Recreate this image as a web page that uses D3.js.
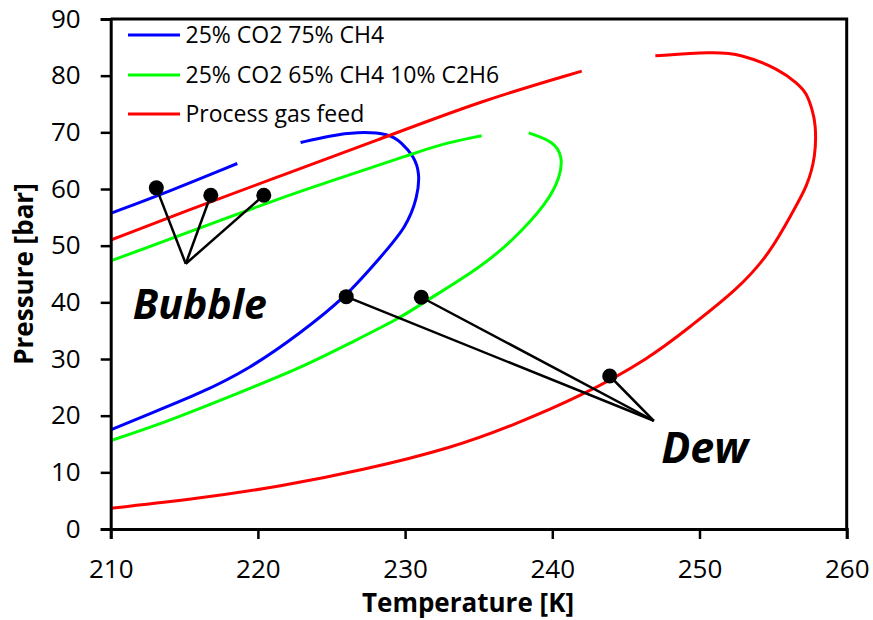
<!DOCTYPE html>
<html>
<head>
<meta charset="utf-8">
<script src="https://cdn.jsdelivr.net/npm/d3@7"></script>
<style>
  html, body { margin: 0; padding: 0; background: #fff; }
  svg { display: block; font-family: "Open Sans", sans-serif; }
</style>
</head>
<body>
<svg id="chart" width="873" height="620"></svg>
<script>
// Phase envelopes: [temperature K, pressure bar]
const blueBubble = [[210, 55.7], [214, 59.6], [218.6, 64.5]];
const blueDew = [
  [222.9, 68.2], [224.9, 69.4], [226.7, 70.1], [228.95, 69.8], [229.75, 68.2],
  [230.6, 65.8], [231.0, 62.8], [230.85, 58.6], [230.1, 53.3], [228.35, 48.05],
  [226.0, 41.0], [222.85, 34.5], [219.45, 28.3], [216.05, 23.9], [212.7, 20.4],
  [210, 17.5]
];
const greenBubble = [
  [210, 47.3], [215, 52.1], [221.5, 58.4], [226, 62.3], [230.3, 66.0],
  [232.4, 67.9], [235.2, 69.4]
];
const greenDew = [
  [238.4, 69.9], [240.1, 68.4], [240.7, 65.7], [240.55, 62.2], [239.65, 57.5],
  [237.35, 51.0], [235.1, 46.1], [231.2, 39.9], [229.65, 37.2], [226.25, 32.8],
  [222.9, 28.4], [218.3, 23.6], [213.8, 18.9], [210, 15.6]
];
const redBubble = [
  [210, 51.0], [215, 56.0], [221.5, 62.3], [228, 68.5], [235.3, 75.7], [242.0, 80.8]
];
const redDew = [
  [247.0, 83.5], [250.9, 84.2], [252.75, 83.9], [255.45, 81.1], [256.6, 78.7],
  [257.3, 76.9], [257.65, 74.0], [257.9, 71.6], [257.9, 65.7], [257.3, 60.4],
  [256.4, 56.3], [254.8, 48.65], [252.55, 42.2], [249.35, 35.7], [246.65, 30.2],
  [241.9, 23.35], [237.35, 18.35], [233.3, 14.4], [227.15, 10.4], [221.5, 7.5],
  [216.05, 5.4], [210, 3.65]
];

// Legend entries
const seriesNames = ["25% CO2 75% CH4", "25% CO2 65% CH4 10% C2H6", "Process gas feed"];
const seriesColors = ["#0000ff", "#00ff00", "#ff0000"];

// Callout markers and where their leader lines meet
const bubbleDots = [[213.1, 60.2], [216.8, 58.9], [220.4, 58.9]];
const bubbleHub = [215.1, 46.8];
const dewDots = [[226.0, 41.0], [231.1, 40.9], [243.9, 27.0]];
const dewHub = [246.9, 19.1];

// Axis ticks
const xTicks = [210, 220, 230, 240, 250, 260];
const yTicks = [0, 10, 20, 30, 40, 50, 60, 70, 80, 90];

const margin = { left: 110.7, right: 26.3, top: 19, bottom: 91 };
const W = 873, H = 620;
const svg = d3.select("#chart");

const x = d3.scaleLinear().domain([210, 260]).range([margin.left, W - margin.right]);
const y = d3.scaleLinear().domain([0, 90]).range([H - margin.bottom, margin.top]);

// B-spline through the envelope points keeps the curves free of kinks
const line = d3.line()
  .x(d => x(d[0]))
  .y(d => y(d[1]))
  .curve(d3.curveBasis);

const curves = [
  [blueBubble, seriesColors[0]], [blueDew, seriesColors[0]],
  [greenBubble, seriesColors[1]], [greenDew, seriesColors[1]],
  [redBubble, seriesColors[2]], [redDew, seriesColors[2]]
];

svg.append("g").selectAll("path")
  .data(curves)
  .join("path")
  .attr("d", d => line(d[0]))
  .attr("fill", "none")
  .attr("stroke", d => d[1])
  .attr("stroke-width", 3)
  .attr("stroke-linecap", "butt")
  .attr("stroke-linejoin", "round");

// Leader lines and dots
function callout(dots, hub) {
  const g = svg.append("g");
  g.selectAll("line")
    .data(dots)
    .join("line")
    .attr("x1", d => x(d[0])).attr("y1", d => y(d[1]))
    .attr("x2", x(hub[0])).attr("y2", y(hub[1]))
    .attr("stroke", "#000").attr("stroke-width", 2.5);
  g.selectAll("circle")
    .data(dots)
    .join("circle")
    .attr("cx", d => x(d[0])).attr("cy", d => y(d[1]))
    .attr("r", 7.5).attr("fill", "#000");
}
callout(bubbleDots, bubbleHub);
callout(dewDots, dewHub);

svg.append("text")
  .attr("x", x(211.5)).attr("y", y(37.1))
  .attr("font-size", 41).attr("font-weight", "bold").attr("font-style", "italic")
  .text("Bubble");
svg.append("text")
  .attr("x", x(247.4)).attr("y", y(11.6))
  .attr("font-size", 43).attr("font-weight", "bold").attr("font-style", "italic")
  .text("Dew");

// Axes
const xAxis = svg.append("g")
  .attr("transform", `translate(0,${y(0)})`)
  .call(d3.axisBottom(x).tickValues(xTicks).tickFormat(d3.format("d")).tickSize(10).tickPadding(21));
const yAxis = svg.append("g")
  .attr("transform", `translate(${x(210)},0)`)
  .call(d3.axisLeft(y).tickValues(yTicks).tickFormat(d3.format("d")).tickSize(10).tickPadding(20));

[xAxis, yAxis].forEach(a => {
  a.select(".domain").attr("stroke", "#000").attr("stroke-width", 3);
  a.selectAll(".tick line").attr("stroke", "#000").attr("stroke-width", 2.5);
  a.selectAll(".tick text").attr("font-size", 26).attr("fill", "#000")
    .attr("font-family", "'Open Sans', sans-serif");
});

// Top and right frame
svg.append("path")
  .attr("d", `M${x(210)},${y(90)}H${x(260)}V${y(0)}`)
  .attr("fill", "none").attr("stroke", "#000").attr("stroke-width", 3);

// Axis titles
svg.append("text")
  .attr("x", 468).attr("y", 612)
  .attr("text-anchor", "middle")
  .attr("font-size", 26).attr("font-weight", "bold")
  .text("Temperature [K]");
svg.append("text")
  .attr("transform", `translate(33,${(y(0) + y(90)) / 2}) rotate(-90)`)
  .attr("text-anchor", "middle")
  .attr("font-size", 26).attr("font-weight", "bold")
  .text("Pressure [bar]");

// Legend
const legend = svg.append("g");
const legendY = [35, 75, 114];
seriesNames.forEach((name, i) => {
  legend.append("line")
    .attr("x1", 128).attr("x2", 180)
    .attr("y1", legendY[i]).attr("y2", legendY[i])
    .attr("stroke", seriesColors[i]).attr("stroke-width", 3);
  legend.append("text")
    .attr("x", 185.5).attr("y", legendY[i] + 8.3)
    .attr("font-size", 23)
    .text(name);
});
</script>
</body>
</html>
